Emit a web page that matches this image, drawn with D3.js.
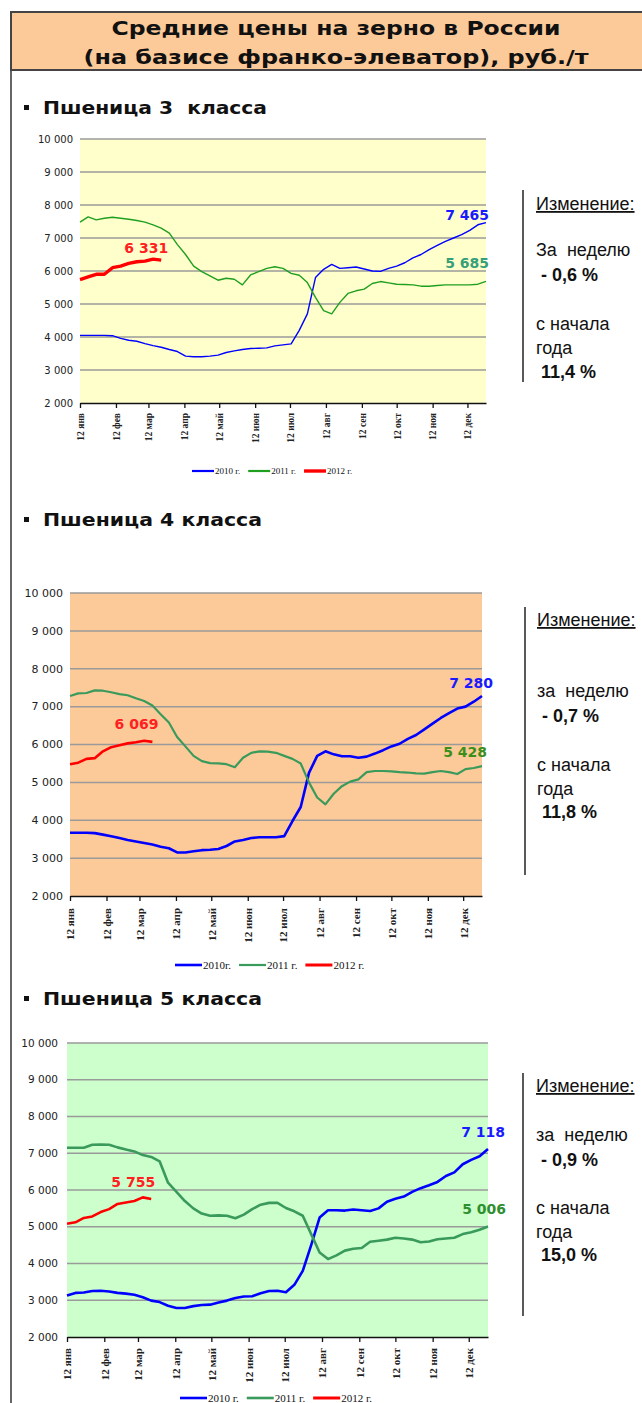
<!DOCTYPE html>
<html>
<head>
<meta charset="utf-8">
<script src="https://cdn.jsdelivr.net/npm/d3@7"></script>
<style>
  body { margin: 0; background: #fff; }
  svg { display: block; }
</style>
</head>
<body>
<svg width="642" height="1403"></svg>
<script>
// --- data -------------------------------------------------------------
var titleLines = ["Средние цены на зерно в России", "(на базисе франко-элеватор), руб./т"];
var headings = ["Пшеница 3  класса", "Пшеница 4 класса", "Пшеница 5 класса"];
var months = ["янв", "фев", "мар", "апр", "май", "июн", "июл", "авг", "сен", "окт", "ноя", "дек"];
var yTicks = [2000, 3000, 4000, 5000, 6000, 7000, 8000, 9000, 10000];
var years = ["2010 г.", "2011 г.", "2012 г."];
var years4 = ["2010г.", "2011 г.", "2012 г."];

// weekly prices, from 12 Jan
var wheat3_2010 = [4050,4050,4050,4050,4040,3960,3900,3870,3800,3740,3690,3620,3560,3420,3400,3400,3420,3450,3530,3580,3620,3650,3660,3670,3730,3760,3790,4200,4700,5800,6050,6200,6080,6100,6120,6060,6000,5990,6080,6150,6250,6400,6500,6650,6780,6900,7000,7100,7230,7400,7465];
var wheat3_2011 = [7480,7640,7550,7600,7630,7600,7570,7530,7480,7400,7300,7150,6800,6500,6150,5980,5850,5720,5780,5750,5580,5880,5980,6080,6130,6080,5930,5870,5650,5200,4800,4700,5050,5320,5400,5450,5620,5680,5640,5600,5590,5580,5540,5540,5560,5580,5580,5580,5580,5600,5685];
var wheat3_2012 = [5740,5820,5900,5900,6100,6150,6230,6280,6300,6360,6331];

var wheat4_2010 = [3670,3670,3670,3660,3620,3580,3530,3480,3440,3400,3360,3300,3260,3150,3150,3180,3210,3220,3240,3320,3440,3480,3530,3550,3550,3550,3580,3980,4350,5250,5700,5820,5740,5690,5690,5650,5680,5760,5850,5950,6020,6150,6250,6400,6550,6700,6830,6950,7000,7130,7280];
var wheat4_2011 = [7280,7350,7360,7430,7420,7380,7330,7300,7220,7150,7030,6800,6580,6200,5950,5700,5560,5510,5500,5480,5400,5650,5780,5820,5810,5780,5700,5620,5500,5000,4600,4420,4700,4900,5020,5080,5270,5300,5300,5290,5270,5260,5240,5230,5270,5300,5270,5220,5350,5380,5428];
var wheat4_2012 = [5480,5520,5620,5640,5820,5930,5980,6030,6060,6100,6069];

var wheat5_2010 = [3130,3200,3210,3250,3260,3240,3200,3180,3150,3080,2990,2950,2850,2790,2790,2840,2870,2880,2940,2990,3060,3100,3110,3190,3250,3260,3220,3420,3800,4500,5250,5450,5450,5440,5470,5450,5430,5500,5680,5760,5820,5950,6050,6130,6220,6380,6480,6700,6820,6920,7118];
var wheat5_2011 = [7150,7150,7150,7230,7240,7230,7160,7100,7050,6950,6900,6780,6200,5950,5700,5500,5360,5300,5310,5300,5230,5330,5480,5600,5650,5650,5510,5420,5300,4800,4300,4120,4220,4350,4400,4420,4590,4620,4650,4700,4680,4650,4580,4600,4660,4680,4700,4800,4850,4920,5006];
var wheat5_2012 = [5080,5120,5240,5280,5400,5480,5620,5660,5700,5800,5755];

var changeTitle = "Изменение:";
var weekWords = ["За  неделю", "за  неделю", "за  неделю"];
var changeWeek = [" - 0,6 %", " - 0,7 %", " - 0,9 %"];
var changeYear = [" 11,4 %", " 11,8 %", " 15,0 %"];

// --- setup ------------------------------------------------------------
var svg = d3.select("svg");
var ru = d3.formatLocale({decimal: ",", thousands: "\u00a0", grouping: [3], currency: ["", ""]});
var fmt = ru.format(",d");

var start = new Date(2010, 0, 12);
var end = d3.timeDay.offset(start, 350);
function weekDate(i) { return d3.timeDay.offset(start, 7 * i); }
var monthTicks = months.map(function(m, i) { return new Date(2010, i, 12); });

var panels = [
  {heading: headings[0], headY: 114, left: 80, right: 486, top: 139, bottom: 403, bg: "#FFFFCC",
   series: [wheat3_2010, wheat3_2011, wheat3_2012], colors: ["#0000ff", "#1f9f1f", "#ff0000"],
   widths: [1.4, 1.4, 3.4], labelColors: ["#1a1aff", "#35a07a", "#ff2020"],
   ends: [[3, -3], [3, -13], [7, -7]], yFont: 10, yGap: 7, xFont: 9.5, xGap: 10,
   legend: years, legX: 192, legY: 471, legFont: 9, legLen: 22,
   info: {x: 536, lineX: 523, lineTop: 190, lineBottom: 382, rows: [210, 256, 281, 330, 354, 378], week: 0}},
  {heading: headings[1], headY: 526, left: 70, right: 482, top: 593, bottom: 896, bg: "#FCCA98",
   series: [wheat4_2010, wheat4_2011, wheat4_2012], colors: ["#0000ff", "#3a9a5c", "#ff0000"],
   widths: [2.6, 2.2, 2.6], labelColors: ["#1a1aff", "#3a8f1a", "#ff2020"],
   ends: [[11, -8], [5, -9], [6, -13]], yFont: 11, yGap: 7, xFont: 11, xGap: 12,
   legend: years4, legX: 175, legY: 965, legFont: 11, legLen: 27,
   info: {x: 537, lineX: 525, lineTop: 607, lineBottom: 875, rows: [626, 697, 722, 771, 795, 818], week: 1}},
  {heading: headings[2], headY: 1005, left: 67, right: 488, top: 1043, bottom: 1337, bg: "#CCFFCC",
   series: [wheat5_2010, wheat5_2011, wheat5_2012], colors: ["#0000ff", "#3a9a5c", "#ff0000"],
   widths: [2.6, 2.6, 2.6], labelColors: ["#1a1aff", "#2f8f2f", "#ff2020"],
   ends: [[17, -12], [18, -13], [4, -12]], yFont: 10.5, yGap: 9, xFont: 11, xGap: 11,
   legend: years, legX: 180, legY: 1398, legFont: 11, legLen: 27,
   info: {x: 536, lineX: 523, lineTop: 1073, lineBottom: 1316, rows: [1092, 1141, 1166, 1214, 1238, 1261], week: 2}}
];

// --- frame + title ----------------------------------------------------
svg.append("line").attr("x1", 11).attr("x2", 11).attr("y1", 12).attr("y2", 1403)
  .attr("stroke", "#333").attr("stroke-width", 1.5);

svg.append("rect").attr("x", 11).attr("y", 12).attr("width", 660).attr("height", 58)
  .attr("fill", "#FCCA98").attr("stroke", "#444").attr("stroke-width", 2);

svg.selectAll("text.title").data(titleLines).enter().append("text")
  .attr("class", "title")
  .attr("x", 336).attr("y", function(d, i) { return 35 + i * 29; })
  .attr("text-anchor", "middle")
  .attr("textLength", function(d, i) { return i ? 505 : 449; })
  .attr("lengthAdjust", "spacingAndGlyphs")
  .style("font-family", "DejaVu Sans").style("font-weight", "bold").style("font-size", "20px")
  .attr("fill", "#111")
  .text(function(d) { return d; });

// --- panels -----------------------------------------------------------
panels.forEach(function(p) {
  var g = svg.append("g");
  var x = d3.scaleTime().domain([start, end]).range([p.left, p.right]);
  var y = d3.scaleLinear().domain([2000, 10000]).range([p.bottom, p.top]);

  // heading
  g.append("rect").attr("x", 24).attr("y", p.headY - 9).attr("width", 5).attr("height", 5).attr("fill", "#111");
  g.append("text").attr("x", 43).attr("y", p.headY)
    .style("font-family", "DejaVu Sans").style("font-weight", "bold").style("font-size", "17px")
    .style("white-space", "pre")
    .attr("textLength", p.heading.indexOf("3") > 0 ? 224 : 219).attr("lengthAdjust", "spacingAndGlyphs")
    .attr("fill", "#111").text(p.heading);

  g.append("rect").attr("x", p.left).attr("y", p.top)
    .attr("width", p.right - p.left).attr("height", p.bottom - p.top).attr("fill", p.bg);

  g.selectAll("line.grid").data(yTicks.slice(1)).enter().append("line")
    .attr("x1", p.left).attr("x2", p.right)
    .attr("y1", function(d) { return y(d); }).attr("y2", function(d) { return y(d); })
    .attr("stroke", "#9a9a9a").attr("stroke-width", 1.5);

  g.selectAll("text.ylab").data(yTicks).enter().append("text")
    .attr("x", p.left - p.yGap).attr("y", function(d) { return y(d); }).attr("dy", "0.35em")
    .attr("text-anchor", "end")
    .style("font-family", "DejaVu Sans").style("font-size", p.yFont + "px")
    .attr("fill", "#222").text(function(d) { return fmt(d); });

  var xAxis = g.append("g").attr("transform", "translate(0," + p.bottom + ")")
    .call(d3.axisBottom(x).tickValues(monthTicks).tickSize(5).tickSizeOuter(0)
      .tickFormat(function(d) { return "12 " + months[d.getMonth()]; }));
  xAxis.select(".domain").attr("stroke", "#111").attr("stroke-width", 1.6);
  xAxis.selectAll(".tick line").attr("stroke", "#111").attr("stroke-width", 1.3);
  xAxis.selectAll(".tick text")
    .attr("transform", "rotate(-90)").attr("text-anchor", "end")
    .attr("x", -p.xGap).attr("y", 0).attr("dy", "0.35em")
    .style("font-family", "Liberation Serif").style("font-weight", "bold").style("font-size", p.xFont + "px")
    .attr("fill", "#222");

  var line = d3.line()
    .x(function(d, i) { return x(weekDate(i)); })
    .y(function(d) { return y(d); });

  g.selectAll("path.series").data(p.series).enter().append("path")
    .attr("d", line).attr("fill", "none")
    .attr("stroke", function(d, i) { return p.colors[i]; })
    .attr("stroke-width", function(d, i) { return p.widths[i]; })
    .attr("stroke-linejoin", "round");

  // last values
  g.selectAll("text.endlab").data(p.series).enter().append("text")
    .attr("x", function(d, i) { return x(weekDate(d.length - 1)) + p.ends[i][0]; })
    .attr("y", function(d, i) { return y(d[d.length - 1]) + p.ends[i][1]; })
    .attr("text-anchor", "end")
    .style("font-family", "DejaVu Sans").style("font-weight", "bold").style("font-size", "14px")
    .attr("fill", function(d, i) { return p.labelColors[i]; })
    .text(function(d) { return fmt(d[d.length - 1]); });

  // legend
  var lx = p.legX;
  p.legend.forEach(function(t, i) {
    g.append("line").attr("x1", lx).attr("x2", lx + p.legLen).attr("y1", p.legY).attr("y2", p.legY)
      .attr("stroke", p.colors[i]).attr("stroke-width", i === 2 ? Math.max(p.widths[i], 3) : Math.max(p.widths[i], 2.2));
    var tx = g.append("text").attr("x", lx + p.legLen + 1).attr("y", p.legY).attr("dy", "0.35em")
      .style("font-family", "Liberation Serif").style("font-size", p.legFont + "px")
      .attr("fill", "#111").text(t);
    lx += p.legLen + 1 + tx.node().getComputedTextLength() + 8;
  });

  // change info
  var inf = p.info;
  g.append("line").attr("x1", inf.lineX).attr("x2", inf.lineX).attr("y1", inf.lineTop).attr("y2", inf.lineBottom)
    .attr("stroke", "#222").attr("stroke-width", 1.5);
  var rows = [changeTitle, weekWords[inf.week], changeWeek[inf.week], "с начала", "года", changeYear[inf.week]];
  g.selectAll("text.info").data(rows).enter().append("text")
    .attr("x", inf.x).attr("y", function(d, i) { return inf.rows[i]; })
    .style("font-family", "Liberation Sans").style("font-size", "18px").style("white-space", "pre")
    .style("font-weight", function(d, i) { return (i === 2 || i === 5) ? "bold" : "normal"; })
    .style("text-decoration", function(d, i) { return i === 0 ? "underline" : "none"; })
    .attr("fill", "#111").text(function(d) { return d; });
});
</script>
</body>
</html>
